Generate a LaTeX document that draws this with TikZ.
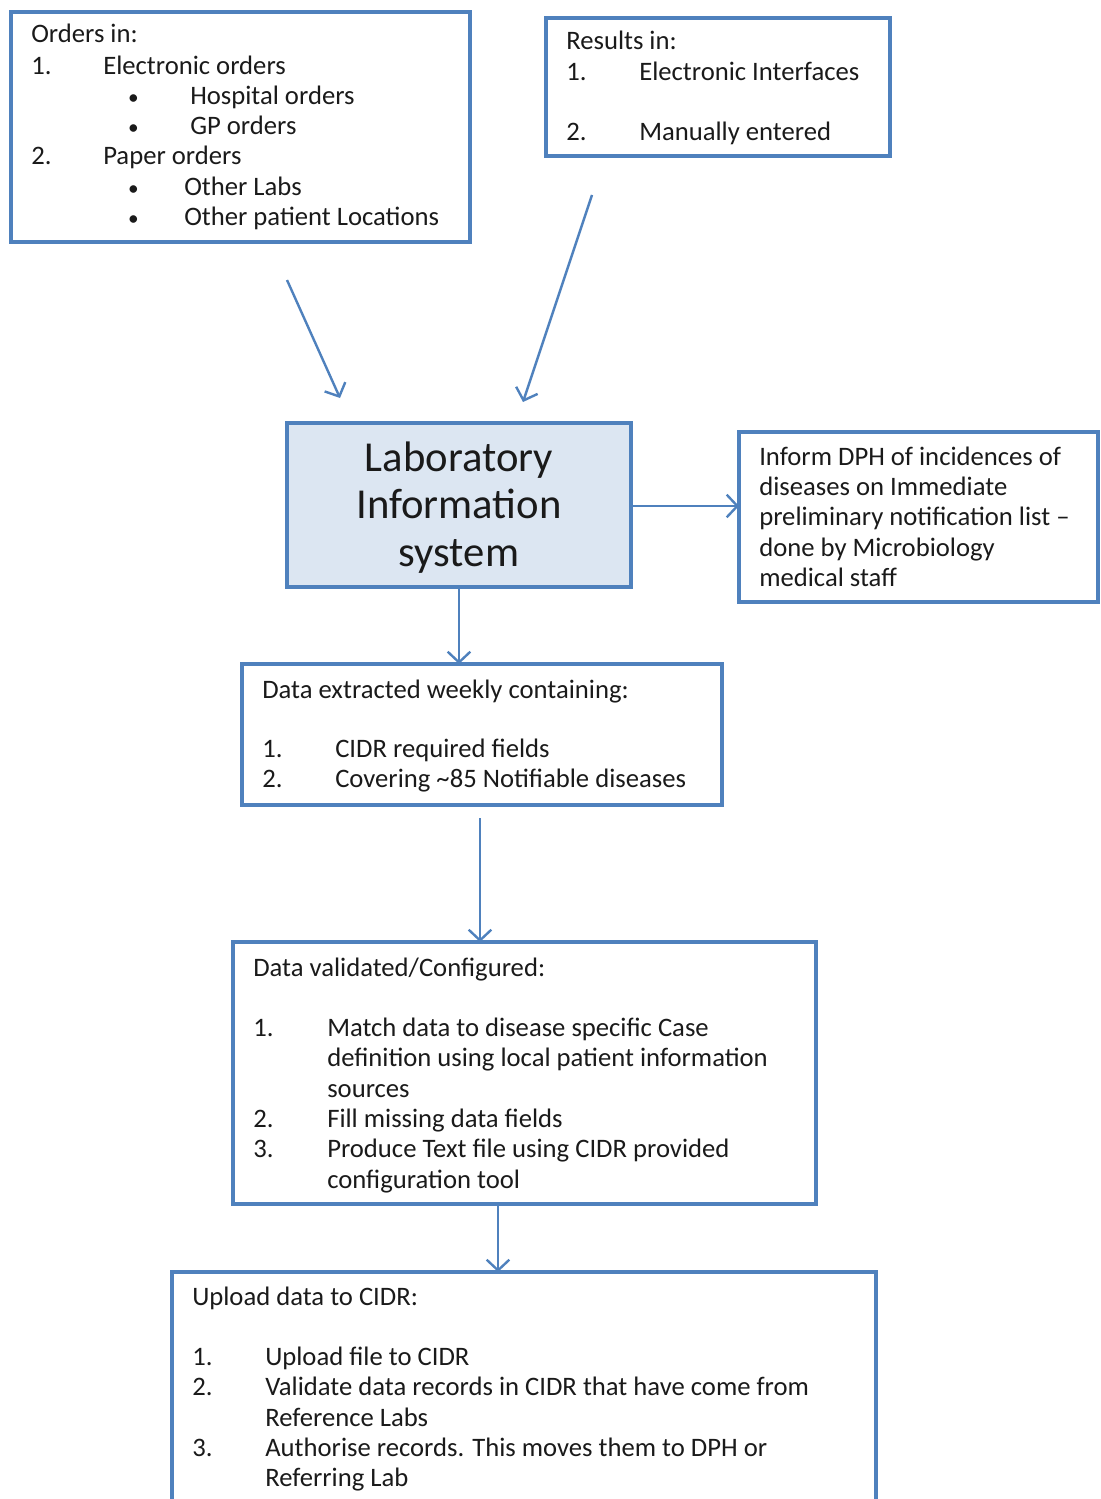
\documentclass[tikz,border=0pt]{standalone}
\usepackage{fontspec}
\setmainfont{Carlito}
\usetikzlibrary{arrows.meta}
\definecolor{boxblue}{HTML}{4F81BD}
\definecolor{lisfill}{HTML}{DCE6F2}
\definecolor{txtcol}{HTML}{1A1A1A}
\begin{document}
\begin{tikzpicture}[x=0.75pt,y=-0.75pt,
  box/.style={draw=boxblue, line width=3pt, anchor=north west, inner sep=0, outer sep=0},
  txt/.style={anchor=west, inner sep=0, yshift=-4pt, text height=0.72em, text depth=0.2em, text=txtcol, font=\fontsize{20}{24}\selectfont},
  bigtxt/.style={anchor=center, inner sep=0, yshift=-7.5pt, text height=0.72em, text depth=0.2em, text=txtcol, font=\fontsize{32}{38}\selectfont},
  arr/.style={draw=boxblue, line width=1.8pt, -{Straight Barb[length=8pt,width=17pt,line width=1.8pt]}}]
\useasboundingbox (0,0) rectangle (1100,1499);

% boxes
\node[box, minimum width=459*0.75pt, minimum height=230*0.75pt] (orders) at (11,12) {};
\node[box, minimum width=344*0.75pt, minimum height=138*0.75pt] (results) at (546,18) {};
\node[box, fill=lisfill, minimum width=344*0.75pt, minimum height=164*0.75pt] (lis) at (287,423) {};
\node[box, minimum width=359*0.75pt, minimum height=170*0.75pt] (inform) at (739,432) {};
\node[box, minimum width=480*0.75pt, minimum height=141*0.75pt] (extract) at (242,664) {};
\node[box, minimum width=583*0.75pt, minimum height=262*0.75pt] (valid) at (233,942) {};
\node[anchor=north west, inner sep=0, outer sep=0, minimum width=704*0.75pt, minimum height=227*0.75pt] (upload) at (172,1272) {};
\draw[draw=boxblue, line width=3pt] (upload.south west) -- (upload.north west) -- (upload.north east) -- (upload.south east);

% Orders text
\node[txt] (o0) at (31,34) {Orders in:};
\node[txt] (o1n) at (31,66) {1.};
\node[txt] (o1) at (103,66) {Electronic orders};
\node[txt, scale=0.8] (o1ab) at (128,96) {•};
\node[txt] (o1a) at (190,96) {Hospital orders};
\node[txt, scale=0.8] (o1bb) at (128,126) {•};
\node[txt] (o1b) at (190,126) {GP orders};
\node[txt] (o2n) at (31,156) {2.};
\node[txt] (o2) at (103,156) {Paper orders};
\node[txt, scale=0.8] (o2ab) at (128,187) {•};
\node[txt] (o2a) at (184,187) {Other Labs};
\node[txt, scale=0.8] (o2bb) at (128,217) {•};
\node[txt] (o2b) at (184,217) {Other patient Locations};

% Results text
\node[txt] (r0) at (566,41) {Results in:};
\node[txt] (r1n) at (566,72) {1.};
\node[txt] (r1) at (639,72) {Electronic Interfaces};
\node[txt] (r2n) at (566,132) {2.};
\node[txt] (r2) at (639,132) {Manually entered};

% LIS text
\node[bigtxt] (l1) at (459,458) {Laboratory};
\node[bigtxt] (l2) at (459,505) {Information};
\node[bigtxt] (l3) at (459,553) {system};

% Inform text
\node[txt] (i1) at (759,457) {Inform DPH of incidences of};
\node[txt] (i2) at (759,487) {diseases on Immediate};
\node[txt] (i3) at (759,517) {preliminary notification list –};
\node[txt] (i4) at (759,548) {done by Microbiology};
\node[txt] (i5) at (759,578) {medical staff};

% Extract text
\node[txt] (e0) at (262,690) {Data extracted weekly containing:};
\node[txt] (e1n) at (262,749) {1.};
\node[txt] (e1) at (335,749) {CIDR required fields};
\node[txt] (e2n) at (262,779) {2.};
\node[txt] (e2) at (335,779) {Covering \textasciitilde 85 Notifiable diseases};

% Validated text
\node[txt] (v0) at (253,968) {Data validated/Configured:};
\node[txt] (v1n) at (253,1028) {1.};
\node[txt] (v1a) at (327,1028) {Match data to disease specific Case};
\node[txt] (v1b) at (327,1058) {definition using local patient information};
\node[txt] (v1c) at (327,1089) {sources};
\node[txt] (v2n) at (253,1119) {2.};
\node[txt] (v2) at (327,1119) {Fill missing data fields};
\node[txt] (v3n) at (253,1149) {3.};
\node[txt] (v3a) at (327,1149) {Produce Text file using CIDR provided};
\node[txt] (v3b) at (327,1180) {configuration tool};

% Upload text
\node[txt] (u0) at (192,1297) {Upload data to CIDR:};
\node[txt] (u1n) at (192,1357) {1.};
\node[txt] (u1) at (265,1357) {Upload file to CIDR};
\node[txt] (u2n) at (192,1387) {2.};
\node[txt] (u2a) at (265,1387) {Validate data records in CIDR that have come from};
\node[txt] (u2b) at (265,1418) {Reference Labs};
\node[txt] (u3n) at (192,1448) {3.};
\node[txt] (u3a) at (265,1448) {Authorise records. This moves them to DPH or};
\node[txt] (u3b) at (265,1478) {Referring Lab};

% connectors
\coordinate (ordS) at (287,280);
\coordinate (ordE) at (340,398);
\coordinate (resS) at (592,195);
\coordinate (resE) at (523,402);
\draw[arr] (ordS) -- (ordE);
\draw[arr] (resS) -- (resE);
\draw[arr] (lis.east |- 0,506) -- (inform.west |- 0,506);
\draw[arr] (lis.south) -- (lis.south |- extract.north);
\coordinate (extS) at (480,818);
\draw[arr] (extS) -- (extS |- valid.north);
\coordinate (valS) at (498,1205);
\draw[arr] (valS) -- (valS |- upload.north);
\end{tikzpicture}
\end{document}
